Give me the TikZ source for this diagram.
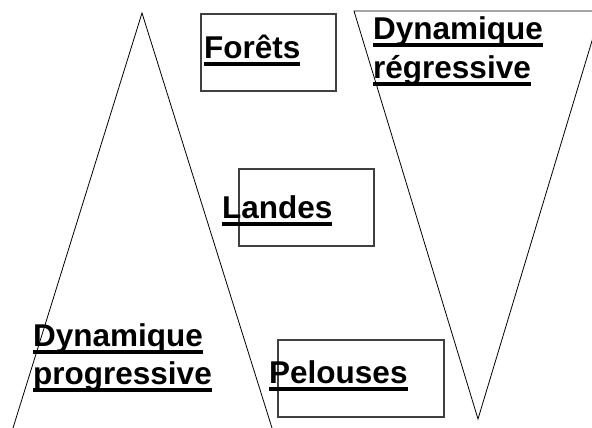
\documentclass[tikz,border=0pt]{standalone}
\usepackage{fontspec}
\setmainfont{Liberation Sans}
\newcommand\ulx[1]{\setbox0\hbox{#1}\rlap{\rule[-7pt]{\wd0}{4pt}}\box0}
\tikzset{
  lbl/.style={inner sep=0pt, anchor=base west, font=\bfseries\fontsize{31.5}{37}\selectfont},
  boxs/.style={draw=black!75, line width=1.3pt, inner sep=0pt, fill=none},
  tri/.style={draw=black, line width=0.8pt}
}
\begin{document}
\begin{tikzpicture}[x=1pt,y=1pt]
\useasboundingbox (0,0) rectangle (592,428);
\clip (0,0) rectangle (592,428);
% triangles
\coordinate (lb1) at (13,0);
\coordinate (lap) at (142,415);
\coordinate (lb2) at (272,0);
\draw[tri] (lb1) -- (lap) -- (lb2);
\coordinate (rt1) at (354,417);
\coordinate (rt2) at (601,417);
\coordinate (rap) at (478,9);
\draw[tri] (rt1) -- (rt2) -- (rap) -- cycle;
% boxes
\node[boxs, minimum width=135, minimum height=77] (bF) at (268.5,375.5) {};
\node[boxs, minimum width=135, minimum height=77] (bL) at (306.5,220.5) {};
\node[boxs, minimum width=166, minimum height=77] (bP) at (361,49.5) {};
% labels
\node[lbl] (tF) at (204,369) {\ulx{Forêts}};
\node[lbl] (tL) at (222,209) {\ulx{Landes}};
\node[lbl] (tP) at (269,44) {\ulx{Pelouses}};
\node[lbl] (tDP1) at (33,81) {\ulx{Dynamique}};
\node[lbl] (tDP2) at (33,43) {\ulx{progressive}};
\node[lbl] (tDR1) at (373,388) {\ulx{Dynamique}};
\node[lbl] (tDR2) at (373,349) {\ulx{régressive}};
\end{tikzpicture}
\end{document}
